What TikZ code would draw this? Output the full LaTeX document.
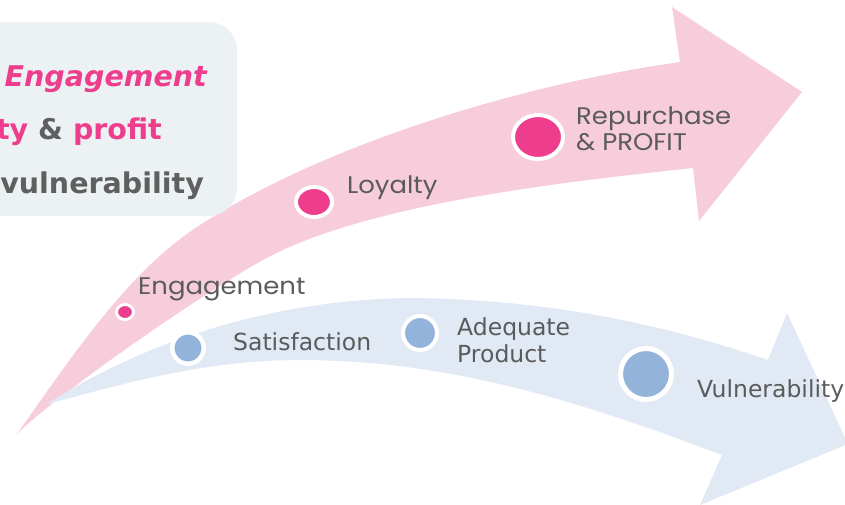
\documentclass[tikz,border=0pt]{standalone}
\usepackage{fontspec}
\setmainfont{DejaVu Sans}
\newfontfamily\labfont[FakeStretch=1.08]{Poppins}
\usetikzlibrary{shapes.geometric}

\definecolor{pinkband}{HTML}{F7CDDC}
\definecolor{blueband}{HTML}{E1E9F5}
\definecolor{pinkdot}{HTML}{EE3D8C}
\definecolor{bluedot}{HTML}{94B3DB}
\definecolor{labelgrey}{HTML}{5B5B5B}
\definecolor{boxgrey}{HTML}{ECF1F4}
\definecolor{boxtext}{HTML}{5F5F5F}

\tikzset{
  pinklab/.style={text=labelgrey, inner sep=0pt, font=\labfont\fontsize{24}{25.5}\selectfont, align=left},
  bluelab/.style={text=labelgrey, inner sep=0pt, font=\fontsize{23.5}{27}\selectfont, align=left},
  boxline/.style={inner sep=0pt, anchor=base east, font=\bfseries\fontsize{28.5}{34}\selectfont},
  stagedot/.style={ellipse, draw=white, inner sep=0pt, fill=#1},
}

\begin{document}
\begin{tikzpicture}[x=1pt,y=-1pt]
\useasboundingbox (0,0) rectangle (845,504);

% upper (pink) band
\fill[pinkband] (17,434)
  .. controls (77,349) and (130,270) .. (200,225)
  .. controls (330,141) and (530,83) .. (680,62)
  -- (672,7) -- (802,92) -- (699,221) -- (693,168)
  .. controls (553,183) and (363,205) .. (263,260)
  .. controls (203,293) and (57,394) .. (17,434) -- cycle;

% lower (blue) band
\fill[blueband] (47,404)
  .. controls (137,346) and (267,298) .. (417,298)
  .. controls (537,300) and (648,319) .. (768,360)
  -- (787,313) -- (848,444) -- (700,505) -- (722,455)
  .. controls (582,402) and (450,360) .. (300,360)
  .. controls (200,360) and (117,386) .. (47,404) -- cycle;

% summary panel
\fill[boxgrey, rounded corners=28pt] (-40,22) rectangle (237,216);
\node[boxline, text=pinkdot, font=\bfseries\itshape\fontsize{28.5}{34}\selectfont] (sumA) at (207,86) {Engagement};
\node[boxline] (sumB) at (162,139) {\textcolor{pinkdot}{ty} \textcolor{boxtext}{\&} \textcolor{pinkdot}{profit}};
\node[boxline, text=boxtext] (sumC) at (204,193) {vulnerability};

% stages on the pink band
\node[stagedot=pinkdot, line width=3pt, minimum width=17pt, minimum height=15pt] (eng) at (125,312) {};
\node[stagedot=pinkdot, line width=4pt, minimum width=36pt, minimum height=30pt] (loy) at (314,202) {};
\node[stagedot=pinkdot, line width=4pt, minimum width=50pt, minimum height=44pt] (rep) at (538,137) {};
\node[pinklab, anchor=base west] (engtxt) at (138,294) {Engagement};
\node[pinklab, anchor=base west] (loytxt) at (347,193) {Loyalty};
\node[pinklab, anchor=base west] (reptxt) at (576,150) {Repurchase\\\& PROFIT};

% stages on the blue band
\node[stagedot=bluedot, line width=4.5pt, minimum width=31.5pt, minimum height=31.5pt] (sat) at (188,348) {};
\node[stagedot=bluedot, line width=4pt, minimum width=34pt, minimum height=34pt] (adq) at (420,333) {};
\node[stagedot=bluedot, line width=5pt, minimum width=51pt, minimum height=51pt] (vul) at (646,374) {};
\node[bluelab, anchor=base west] (sattxt) at (233,350) {Satisfaction};
\node[bluelab, anchor=base west] (adqtxt) at (457,362) {Adequate\\Product};
\node[bluelab, anchor=base west] (vultxt) at (697,397) {Vulnerability};
\end{tikzpicture}
\end{document}
